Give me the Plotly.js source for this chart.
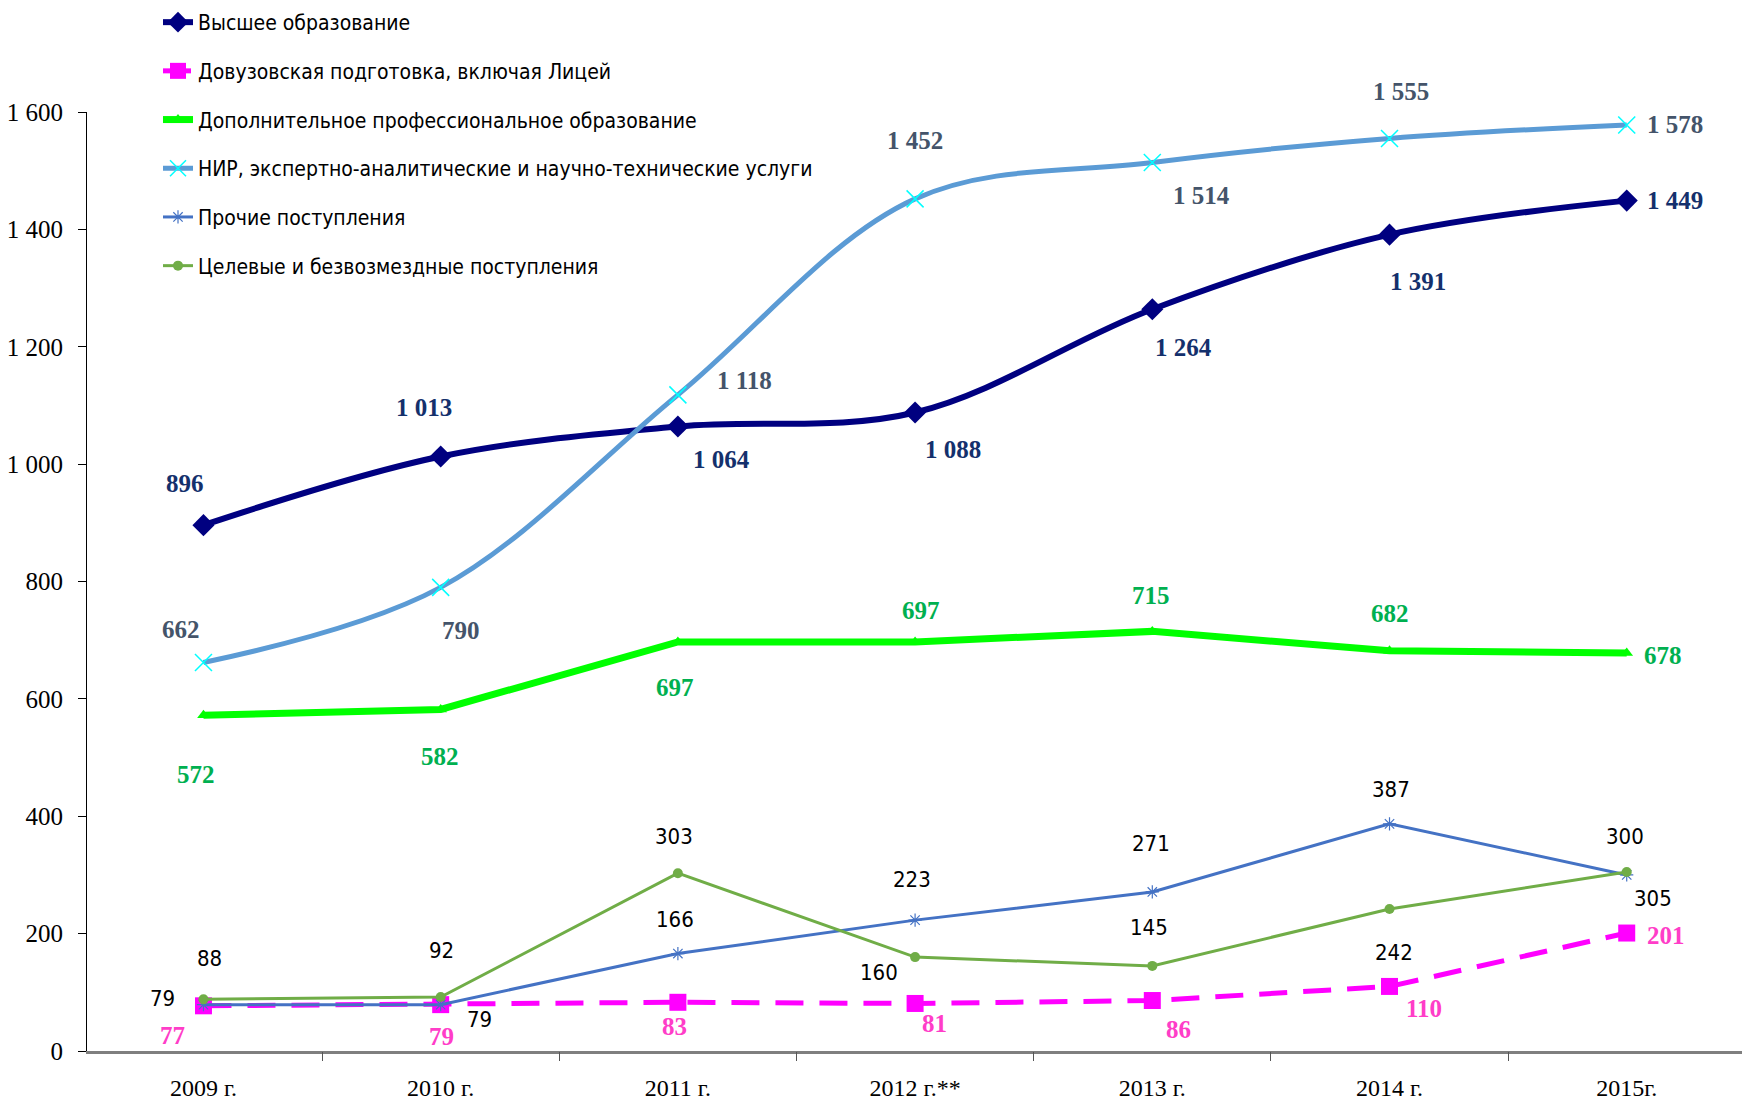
<!DOCTYPE html>
<html><head><meta charset="utf-8">
<script src="https://cdn.plot.ly/plotly-3.0.1.min.js"></script>
<style>html,body{margin:0;padding:0;background:#fff}#chart{width:1742px;height:1101px}</style>
</head><body><div id="chart"></div>
<script>
// ---- data ----
const years = ['2009 г.', '2010 г.', '2011 г.', '2012 г.**', '2013 г.', '2014 г.', '2015г.'];
const higherEdu = [896, 1013, 1064, 1088, 1264, 1391, 1449];
const preUniv = [77, 79, 83, 81, 86, 110, 201];
const addProf = [572, 582, 697, 697, 715, 682, 678];
const research = [662, 790, 1118, 1452, 1514, 1555, 1578];
const otherInc = [79, 79, 166, 223, 271, 387, 300];
const targeted = [88, 92, 303, 160, 145, 242, 305];
const names = [
  'Высшее образование',
  'Довузовская подготовка, включая Лицей',
  'Дополнительное профессиональное образование',
  'НИР, экспертно-аналитические и научно-технические услуги',
  'Прочие поступления',
  'Целевые и безвозмездные поступления'
];

// ---- label offsets (px: dx right, dy up) ----
const offHigher = [[-18,42],[-17,49],[44,-33],[38,-37],[31,-38],[28,-47],[48,0]];
const offPre    = [[-31,-30],[1,-32],[-3,-24],[19,-20],[26,-29],[34,-22],[39,-2]];
const offAdd    = [[-7,-59],[-1,-47],[-3,-46],[6,31],[-1,36],[0,37],[36,-2]];
const offRes    = [[-22,33],[20,-43],[67,14],[0,58],[49,-33],[11,47],[48,0]];
const offOther  = [[-41,6],[39,-15],[-3,34],[-3,41],[-1,48],[1,34],[-2,38]];
const offTarg   = [[6,41],[1,47],[-4,37],[-36,-15],[-3,38],[4,-44],[26,-26]];

const fmt = v => String(v).replace(/\B(?=(\d{3})+(?!\d))/g, ' ');
const serif = 'Liberation Serif, Times New Roman, serif';
const narrow = 'DejaVu Sans Condensed, Liberation Sans Narrow, sans-serif';
const xIdx = years.map((_, i) => i);
const xRange = [-0.491, 6.486];

const traces = [
  {y: higherEdu, name: names[0], line: {color: '#000080', width: 6, shape: 'spline', smoothing: 1},
   marker: {symbol: 'diamond', size: 17, color: '#000080'}},
  {y: preUniv, name: names[1], line: {color: '#ff00ff', width: 5, dash: '28px,16px'},
   marker: {symbol: 'square', size: 17, color: '#ff00ff'}},
  {y: addProf, name: names[2], line: {color: '#00ff00', width: 7},
   marker: {symbol: 'triangle-up', size: 11, color: '#00ff00'}},
  {y: research, name: names[3], line: {color: '#5b9bd5', width: 5, shape: 'spline', smoothing: 1},
   marker: {symbol: 'x-thin-open', size: 17, color: '#00ffff', line: {color: '#00ffff', width: 1.5}}},
  {y: otherInc, name: names[4], line: {color: '#4472c4', width: 3},
   marker: {symbol: 'asterisk-open', size: 11, color: '#4472c4', line: {color: '#4472c4', width: 1.2}}},
  {y: targeted, name: names[5], line: {color: '#70ad47', width: 3},
   marker: {symbol: 'circle', size: 10, color: '#70ad47'}}
].map((t, i) => Object.assign({x: xIdx, type: 'scatter', mode: 'lines+markers', cliponaxis: false,
  legendgroup: 'g' + i, hoverinfo: 'skip'}, t));

function labels(vals, offs, color, family, weight, size) {
  return vals.map((v, i) => ({
    x: i, y: v, xref: 'x', yref: 'y', text: fmt(v), showarrow: false,
    xshift: offs[i][0], yshift: offs[i][1],
    font: {family: family, size: size, color: color, weight: weight}
  }));
}
const annotations = [].concat(
  labels(higherEdu, offHigher, '#14306c', serif, 'bold', 25),
  labels(preUniv, offPre, '#ff3dc8', serif, 'bold', 25),
  labels(addProf, offAdd, '#00b050', serif, 'bold', 25),
  labels(research, offRes, '#44546a', serif, 'bold', 25),
  labels(otherInc, offOther, '#000000', narrow, 'normal', 22),
  labels(targeted, offTarg, '#000000', narrow, 'normal', 22)
);

const layout = {
  width: 1742, height: 1101,
  margin: {l: 87, r: 0, t: 112, b: 50, autoexpand: false},
  paper_bgcolor: '#ffffff', plot_bgcolor: '#ffffff',
  separators: ', ',
  showlegend: true,
  legend: {xref: 'container', yref: 'container', x: 158 / 1742, y: 1 - 2 / 1101, xanchor: 'left', yanchor: 'top',
    bgcolor: 'rgba(0,0,0,0)', font: {family: narrow, size: 21, color: '#000'}, tracegroupgap: 18.4,
    traceorder: 'grouped'},
  xaxis: {type: 'linear', range: xRange, tickmode: 'array', tickvals: xIdx, ticktext: years,
    showgrid: false, zeroline: false, showline: true, linecolor: '#7f7f7f', linewidth: 2.5,
    ticks: '', ticklabelstandoff: 14, tickfont: {family: serif, size: 24, color: '#000'}},
  xaxis2: {overlaying: 'x', range: xRange, tickmode: 'array',
    tickvals: [-0.5, 0.5, 1.5, 2.5, 3.5, 4.5, 5.5], ticktext: ['', '', '', '', '', '', ''],
    side: 'bottom', anchor: 'y', ticks: 'outside', ticklen: 9, tickcolor: '#555', tickwidth: 1,
    showgrid: false, zeroline: false, showline: false},
  yaxis: {range: [0, 1600], dtick: 200, tickformat: ',d', showgrid: false, zeroline: false,
    showline: true, linecolor: '#000', linewidth: 1, ticks: 'outside', ticklen: 8, tickcolor: '#000',
    ticklabelstandoff: 10, tickfont: {family: serif, size: 25, color: '#000'}},
  annotations: annotations
};
// helper invisible trace to show boundary ticks on xaxis2
traces.push({x: [0], y: [0], xaxis: 'x2', yaxis: 'y', mode: 'markers', marker: {opacity: 0},
  showlegend: false, hoverinfo: 'skip'});

Plotly.newPlot('chart', traces, layout, {displayModeBar: false, staticPlot: true});
</script></body></html>
